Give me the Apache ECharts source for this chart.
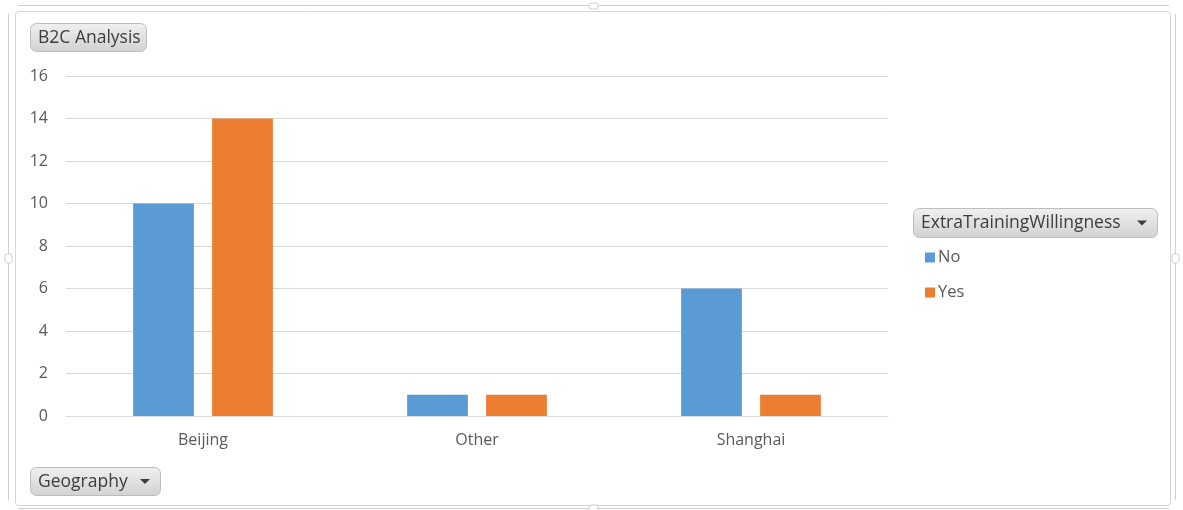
<!DOCTYPE html>
<html>
<head>
<meta charset="utf-8">
<script src="https://cdn.jsdelivr.net/npm/echarts@6/dist/echarts.min.js"></script>
<style>
  html, body { margin: 0; padding: 0; background: #fff; }
  #chart { width: 1183px; height: 510px; }
</style>
</head>
<body>
<div id="chart"></div>
<script>
// Pivot chart: B2C Analysis by Geography and ExtraTrainingWillingness
const categories = ['Beijing', 'Other', 'Shanghai'];
const seriesNames = ['No', 'Yes'];
const noValues = [10, 1, 6];
const yesValues = [14, 1, 1];
const yTicks = [0, 2, 4, 6, 8, 10, 12, 14, 16];

const FONT = '"Open Sans", "Noto Sans", sans-serif';
const TEXT = '#595959';
const FRAME = '#cfcfcf';

// rounded grey pivot field button with an optional drop-down arrow
function fieldButton(x, y, w, h, label, withArrow) {
  const children = [
    {
      type: 'rect',
      shape: { x: 0.5, y: 0.5, width: w, height: h, r: 6 },
      style: {
        fill: new echarts.graphic.LinearGradient(0, 0, 0, 1, [
          { offset: 0, color: '#f0f0f0' },
          { offset: 1, color: '#d2d2d2' }
        ]),
        stroke: '#bdbdbd',
        lineWidth: 1
      }
    },
    {
      type: 'text',
      style: {
        x: 8, y: h / 2 + 1, text: label, fill: '#3d3d3d',
        font: '17.5px ' + FONT, verticalAlign: 'middle'
      }
    }
  ];
  if (withArrow) {
    children.push({
      type: 'polygon',
      shape: { points: [[w - 20, h / 2 - 2], [w - 10, h / 2 - 2], [w - 15, h / 2 + 3]] },
      style: { fill: '#3d3d3d' }
    });
  }
  return { type: 'group', x: x, y: y, children: children };
}

function line(x1, y1, x2, y2, color) {
  return {
    type: 'line', silent: true,
    shape: { x1: x1, y1: y1, x2: x2, y2: y2 },
    style: { stroke: color || FRAME, lineWidth: 1 }
  };
}

function handle(x, y, w, h) {
  return {
    type: 'rect', silent: true,
    shape: { x: x, y: y, width: w, height: h, r: 2 },
    style: { fill: '#fff', stroke: FRAME, lineWidth: 1 }
  };
}

const chart = echarts.init(document.getElementById('chart'));
chart.setOption({
  animation: false,
  backgroundColor: '#ffffff',
  color: ['#5b9bd5', '#ed7d31'],
  grid: { left: 66, right: 295, top: 76, bottom: 94, containLabel: false },
  legend: {
    orient: 'vertical',
    left: 920,
    top: 244,
    itemWidth: 10,
    itemHeight: 10,
    itemGap: 18,
    icon: 'rect',
    textStyle: { color: TEXT, fontFamily: FONT, fontSize: 16.5, padding: [0, 0, 0, -2] },
    data: seriesNames
  },
  xAxis: {
    type: 'category',
    data: categories,
    axisLine: { lineStyle: { color: '#d9d9d9' } },
    axisTick: { show: false },
    axisLabel: { color: TEXT, fontFamily: FONT, fontSize: 16, margin: 16 }
  },
  yAxis: {
    type: 'value',
    min: yTicks[0],
    max: yTicks[yTicks.length - 1],
    interval: 2,
    axisLine: { show: false },
    axisTick: { show: false },
    splitLine: { lineStyle: { color: '#d9d9d9' } },
    axisLabel: { color: TEXT, fontFamily: FONT, fontSize: 16, margin: 18 }
  },
  series: [
    { name: seriesNames[0], type: 'bar', data: noValues, barGap: '30%', barCategoryGap: '49%' },
    { name: seriesNames[1], type: 'bar', data: yesValues, barGap: '30%', barCategoryGap: '49%' }
  ],
  graphic: [
    // chart area border
    {
      type: 'rect', silent: true,
      shape: { x: 15.5, y: 11.5, width: 1155, height: 494, r: 3 },
      style: { fill: 'none', stroke: '#d6d6d6', lineWidth: 1 }
    },
    // selection frame around the chart
    line(18, 5.5, 1169, 5.5),
    line(18, 508.5, 1169, 508.5),
    line(8.5, 14, 8.5, 500),
    line(1175.5, 14, 1175.5, 500),
    handle(589, 3, 9, 6),
    handle(589, 505, 9, 6),
    handle(5, 254, 7, 9),
    handle(1172, 254, 7, 9),
    fieldButton(30, 23, 116, 28, 'B2C Analysis', false),
    fieldButton(30, 467, 130, 28, 'Geography', true),
    fieldButton(913, 208, 244, 29, 'ExtraTrainingWillingness', true)
  ]
});
</script>
</body>
</html>
